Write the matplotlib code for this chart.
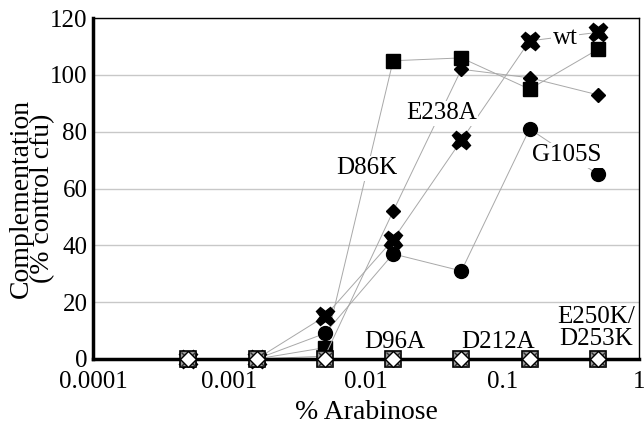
import numpy as np
import matplotlib
matplotlib.use("Agg")
import matplotlib.pyplot as plt

# % arabinose (half-log dilutions from 0.5 %)
arabinose = [0.0005, 0.00158, 0.005, 0.0158, 0.05, 0.158, 0.5]

# complementation (% control cfu)
wt = [0, 0, 15, 42, 77, 112, 115]
d86k = [0, 0, 4, 105, 106, 95, 109]
e238a = [0, 0, 1, 52, 102, 99, 93]
g105s = [0, 0, 9, 37, 31, 81, 65]
d96a = [0, 0, 0, 0, 0, 0, 0]
d212a = [0, 0, 0, 0, 0, 0, 0]
e250k = [0, 0, 0, 0, 0, 0, 0]

yticks = [0, 20, 40, 60, 80, 100, 120]
xticks = [0.0001, 0.001, 0.01, 0.1, 1]
xticklabels = ["0.0001", "0.001", "0.01", "0.1", "1"]

plt.rcParams['font.family'] = ['Liberation Serif', 'DejaVu Serif']

fig = plt.figure(figsize=(6.44, 4.32), dpi=100)
ax = fig.add_axes([0.1444, 0.169, 0.8478, 0.789])

line_kw = dict(color="#a8a8a8", linewidth=0.7, zorder=2, clip_on=False)
ax.plot(arabinose, d86k, marker="s", markersize=10, markerfacecolor="black",
        markeredgecolor="black", **line_kw)
ax.plot(arabinose, e238a, marker="D", markersize=7.5, markerfacecolor="black",
        markeredgecolor="black", **line_kw)
ax.plot(arabinose, g105s, marker="o", markersize=10, markerfacecolor="black",
        markeredgecolor="black", **line_kw)
ax.plot(arabinose, wt, marker="X", markersize=13, markerfacecolor="black",
        markeredgecolor="black", **line_kw)

# null mutants all sit on zero
ax.plot(arabinose, d96a, linestyle="none", marker="s", markersize=11,
        markerfacecolor="#9a9a9a", markeredgecolor="black", markeredgewidth=1.2,
        zorder=4, clip_on=False)
ax.plot(arabinose, d212a, linestyle="none", marker="x", markersize=10,
        markeredgecolor="#333333", markeredgewidth=1, zorder=4, clip_on=False)
ax.plot(arabinose, e250k, linestyle="none", marker="D", markersize=8,
        markerfacecolor="white", markeredgecolor="black", markeredgewidth=1,
        zorder=5, clip_on=False)

box = dict(facecolor="white", edgecolor="none", pad=1)
fs = 18
ax.text(0.288, 113, "wt", fontsize=fs, ha="center", va="center", bbox=box, zorder=3)
ax.text(0.0356, 86.6, "E238A", fontsize=fs, ha="center", va="center", bbox=box, zorder=3)
ax.text(0.0101, 67.2, "D86K", fontsize=fs, ha="center", va="center", bbox=box, zorder=3)
ax.text(0.297, 71.8, "G105S", fontsize=fs, ha="center", va="center", bbox=box, zorder=3)
ax.text(0.01615, 6, "D96A", fontsize=fs, ha="center", va="center", zorder=3)
ax.text(0.0931, 6, "D212A", fontsize=fs, ha="center", va="center", zorder=3)
ax.text(0.485, 10.9, "E250K/\nD253K", fontsize=fs, ha="center", va="center",
        linespacing=0.95, zorder=3)

ax.set_xscale("log")
ax.set_xlim(0.0001, 1)
ax.set_ylim(0, 120)
ax.set_xticks(xticks)
ax.set_xticklabels(xticklabels)
ax.minorticks_off()
ax.set_yticks(yticks)
ax.tick_params(axis="both", length=0, labelsize=18)
ax.tick_params(axis="x", pad=9)
ax.tick_params(axis="y", pad=4)

ax.grid(axis="y", color="#c8c8c8", linewidth=1)
ax.set_axisbelow(True)

ax.spines["left"].set_linewidth(2.5)
ax.spines["bottom"].set_linewidth(2.5)
ax.spines["top"].set_linewidth(1)
ax.spines["right"].set_linewidth(1)
for s in ["left", "bottom"]:
    ax.spines[s].set_zorder(3.5)

ax.set_xlabel("% Arabinose", fontsize=20, labelpad=5)
ax.set_ylabel("Complementation\n(% control cfu)", fontsize=20, linespacing=0.8)
ax.yaxis.set_label_coords(-0.07, 0.47)

fig.savefig("out.png", dpi=100)
